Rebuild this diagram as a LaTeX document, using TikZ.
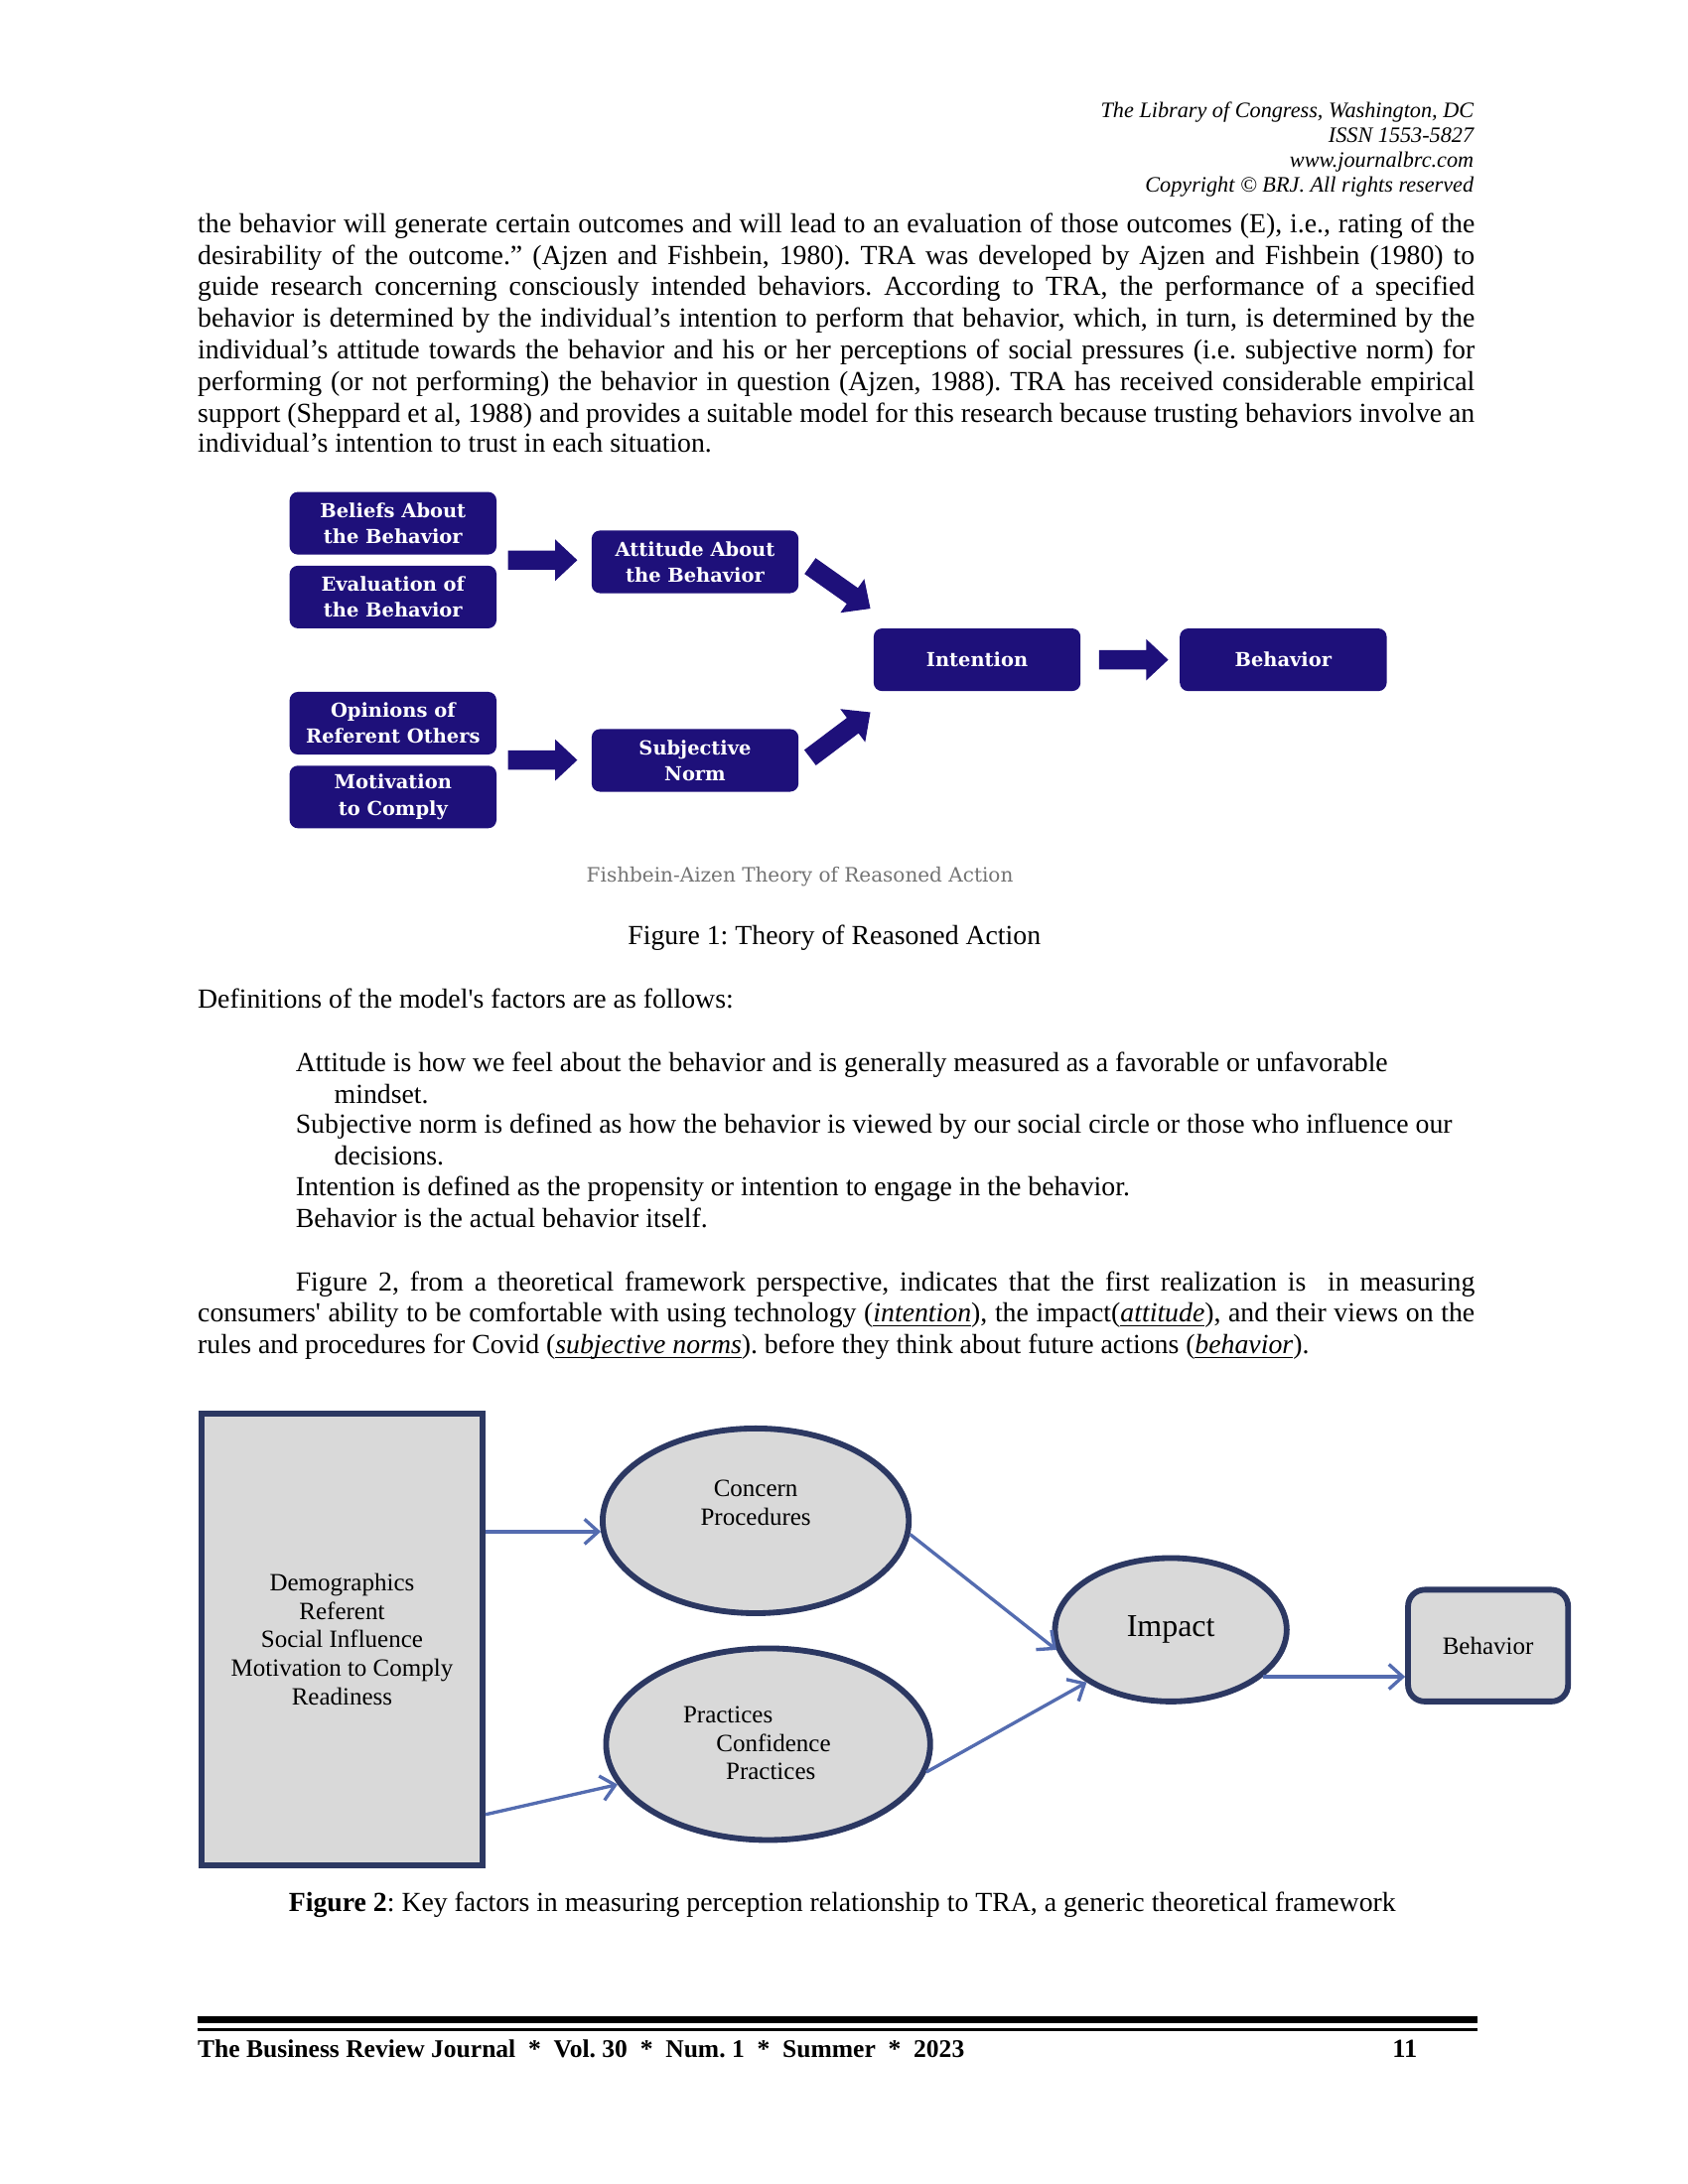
\documentclass[tikz,border=0pt]{standalone}
\usepackage{fontspec}
\setmainfont{Liberation Serif}
\newfontfamily\dvs{DejaVu Serif}
\usetikzlibrary{calc,shapes.geometric,arrows.meta}
\definecolor{tranavy}{RGB}{30,16,122}
\definecolor{frametwo}{RGB}{44,56,98}
\definecolor{arrtwo}{RGB}{84,108,176}
\definecolor{filltwo}{RGB}{217,217,217}
\newcommand\blockarr[2]{%
  \coordinate (ba-h) at ($(#2)!8pt!(#1)$);
  \fill[tranavy] ($(#1)!3.5pt!90:(#2)$) -- ($(ba-h)!3.5pt!90:(#2)$) -- ($(ba-h)!7.5pt!90:(#2)$) -- (#2)
    -- ($(ba-h)!7.5pt!-90:(#2)$) -- ($(ba-h)!3.5pt!-90:(#2)$) -- ($(#1)!3.5pt!-90:(#2)$) -- cycle;}
\newcommand\uitl[1]{\underline{\smash{\textit{#1}}}}
\frenchspacing
\begin{document}
\begin{tikzpicture}[x=0.5pt,y=-0.5pt,
  body/.style={anchor=base west,inner sep=0pt,font=\fontsize{10}{11.35}\selectfont},
  hdr/.style={anchor=base east,inner sep=0pt,font=\fontsize{8}{9}\selectfont\itshape},
  tbox/.style={fill=tranavy,rounded corners=3pt,text=white,align=center,inner sep=0pt,
    minimum width=75pt,minimum height=22.7pt,font=\dvs\bfseries\fontsize{7}{9.5}\selectfont},
  frame/.style={draw=frametwo,line width=2.1pt,fill=filltwo,inner sep=0pt},
  ftxt/.style={inner sep=0pt,align=center,font=\fontsize{9}{10.4}\selectfont},
  conn/.style={draw=arrtwo,line width=1.2pt,-{Straight Barb[length=5pt,width=9pt,line width=1.2pt]}}
]
\useasboundingbox (0,0) rectangle (1224,1584);
\fill[white] (0,0) rectangle (1224,1584);

% header
\node[hdr] (h1) at (1069,85) {The Library of Congress, Washington, DC};
\node[hdr] (h2) at (1069,103) {ISSN 1553-5827};
\node[hdr] (h3) at (1069,121) {www.journalbrc.com};
\node[hdr] (h4) at (1069,139) {Copyright © BRJ. All rights reserved};

% body paragraph
\node[body] (b1) at (143,169) {\makebox[463pt][s]{the behavior will generate certain outcomes and will lead to an evaluation of those outcomes (E), i.e., rating of the}};
\node[body] (b2) at (143,192) {\makebox[463pt][s]{desirability of the outcome.'' (Ajzen and Fishbein, 1980). TRA was developed by Ajzen and Fishbein (1980) to}};
\node[body] (b3) at (143,214) {\makebox[463pt][s]{guide research concerning consciously intended behaviors. According to TRA, the performance of a specified}};
\node[body] (b4) at (143,237) {\makebox[463pt][s]{behavior is determined by the individual’s intention to perform that behavior, which, in turn, is determined by the}};
\node[body] (b5) at (143,260) {\makebox[463pt][s]{individual’s attitude towards the behavior and his or her perceptions of social pressures (i.e. subjective norm) for}};
\node[body] (b6) at (143,283) {\makebox[463pt][s]{performing (or not performing) the behavior in question (Ajzen, 1988). TRA has received considerable empirical}};
\node[body] (b7) at (143,306) {\makebox[463pt][s]{support (Sheppard et al, 1988) and provides a suitable model for this research because trusting behaviors involve an}};
\node[body] (b8) at (143,328) {individual’s intention to trust in each situation.};

% figure 1
\node[tbox] (bel) at (285,379.5) {Beliefs About\\the Behavior};
\node[tbox] (eva) at (285,433) {Evaluation of\\the Behavior};
\node[tbox] (att) at (504,407.5) {Attitude About\\the Behavior};
\node[tbox] (int) at (708.5,478.5) {Intention};
\node[tbox] (beh1) at (930.5,478.5) {Behavior};
\node[tbox] (opi) at (285,524.5) {Opinions of\\Referent Others};
\node[tbox] (mot) at (285,578) {Motivation\\to Comply};
\node[tbox] (sub) at (504,551.5) {Subjective\\Norm};

\coordinate (a1s) at ($(bel.south east)!.5!(eva.north east)+(8,0)$);
\coordinate (a1e) at ($(att.west |- a1s)+(-10,0)$);
\blockarr{a1s}{a1e}
\coordinate (a2s) at ($(att.east)+(8,3)$);
\coordinate (a2e) at ($(int.north west)+(-2,-14)$);
\blockarr{a2s}{a2e}
\coordinate (a3s) at ($(int.east)+(13,0)$);
\coordinate (a3e) at ($(beh1.west)+(-8,0)$);
\blockarr{a3s}{a3e}
\coordinate (a4s) at ($(opi.south east)!.5!(mot.north east)+(8,0)$);
\coordinate (a4e) at ($(sub.west |- a4s)+(-10,0)$);
\blockarr{a4s}{a4e}
\coordinate (a5s) at ($(sub.east)+(8,-2)$);
\coordinate (a5e) at ($(int.south west)+(-2,15)$);
\blockarr{a5s}{a5e}

\node[inner sep=0pt,text=black!55,font=\dvs\fontsize{7.2}{8}\selectfont] (cap0) at (580,636) {Fishbein-Aizen Theory of Reasoned Action};
\node[inner sep=0pt,font=\fontsize{10}{11.35}\selectfont,anchor=base] (cap1) at (605,685) {Figure 1: Theory of Reasoned Action};

\node[body] (d0) at (143,731) {Definitions of the model\textquotesingle s factors are as follows:};
\node[body] (d1) at (214,777) {Attitude is how we feel about the behavior and is generally measured as a favorable or unfavorable};
\node[body] (d2) at (242,800) {mindset.};
\node[body] (d3) at (214,822) {Subjective norm is defined as how the behavior is viewed by our social circle or those who influence our};
\node[body] (d4) at (242,845) {decisions.};
\node[body] (d5) at (214,867) {Intention is defined as the propensity or intention to engage in the behavior.};
\node[body] (d6) at (214,890) {Behavior is the actual behavior itself.};

\node[body] (p1) at (214,936) {\makebox[427.5pt][s]{Figure 2, from a theoretical framework perspective, indicates that the first realization is \ in measuring}};
\node[body] (p2) at (143,959) {\makebox[463pt][s]{consumers\textquotesingle\ ability to be comfortable with using technology (\uitl{intention}), the impact(\uitl{attitude}), and their views on the}};
\node[body] (p3) at (143,982) {rules and procedures for Covid (\uitl{subjective norms}). before they think about future actions (\uitl{behavior}).};

% figure 2
\node[frame,rectangle,minimum width=102pt,minimum height=164pt] (rect) at (248,1189) {};
\node[ftxt] (rtxt) at (248,1189) {Demographics\\Referent\\Social Influence\\Motivation to Comply\\Readiness};
\node[frame,ellipse,minimum width=111pt,minimum height=67pt] (con) at (548,1103) {};
\node[ftxt] (ctxt) at (548,1090) {Concern\\Procedures};
\node[frame,ellipse,minimum width=117.5pt,minimum height=69.5pt] (pra) at (557,1265) {};
\node[ftxt,align=left,anchor=north west] (ptxt) at (495,1237) {Practices\\\hspace*{12pt}Confidence\\\hspace*{15.5pt}Practices};
\node[frame,ellipse,minimum width=84pt,minimum height=52pt,font=\fontsize{11.5}{12}\selectfont] (imp) at (849,1182) {Impact};
\node[frame,rectangle,rounded corners=6pt,minimum width=58pt,minimum height=40.5pt,font=\fontsize{9}{10}\selectfont] (beh2) at (1079,1193.5) {Behavior};

\coordinate (r2s) at (rect.east |- 0,1316);
\draw[conn] (con.184 -| rect.east) -- (con.184);
\draw[conn] (r2s) -- (pra.195);
\draw[conn] (con.-5) -- (imp.190);
\draw[conn] (pra.-10) -- (imp.212);
\draw[conn] (imp.-27) -- (imp.-27 -| beh2.west);

\node[body] (cap2) at (209,1386) {\textbf{Figure 2}: Key factors in measuring perception relationship to TRA, a generic theoretical framework};

% footer
\draw[line width=2.6pt] (143,1465) -- (1071,1465);
\draw[line width=0.9pt] (143,1472) -- (1071,1472);
\node[anchor=base west,inner sep=0pt,font=\bfseries\fontsize{9.2}{11}\selectfont] (f1) at (143,1492) {The Business Review Journal \ * \ Vol. 30 \ * \ Num. 1 \ * \ Summer \ * \ 2023};
\node[anchor=base east,inner sep=0pt,font=\bfseries\fontsize{9.5}{11}\selectfont] (f2) at (1028,1492) {11};
\end{tikzpicture}
\end{document}
